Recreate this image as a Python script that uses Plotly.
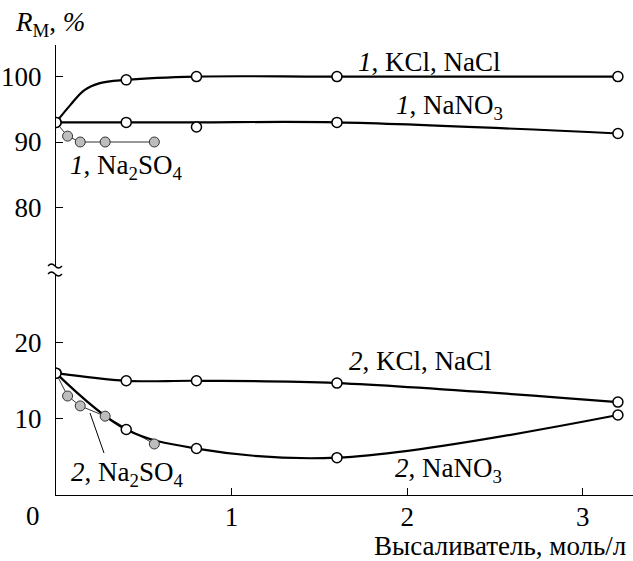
import plotly.graph_objects as go

# ---------------- data ----------------
x_main = [0, 0.4, 0.8, 1.6, 3.2]
x_so4 = [0, 0.066, 0.138, 0.28, 0.56]

r1_kcl = [93, 99.5, 100, 100, 100]
r1_nano3 = [93, 93, 92.3, 93, 91.3]
r1_so4 = [93, 90.9, 90, 90, 90]

r2_kcl = [16, 15, 15, 14.7, 12.2]
r2_nano3 = [16, 8.6, 6.1, 4.9, 10.5]
r2_so4 = [16, 13.0, 11.7, 10.35, 6.7]

# smoothed (fitted) curves as drawn in the figure
c1_kcl_x = [0, 0.08, 0.16, 0.25, 0.4, 0.8, 1.6, 3.2]
c1_kcl_y = [93, 95.6, 97.9, 99.0, 99.5, 100, 100, 100]
c1_nano3_y = [93, 93, 93, 93, 91.3]

x_ticks = [1, 2, 3]
y_low_ticks = [10, 20]
y_up_ticks = [80, 90, 100]

# ---------------- layout geometry ----------------
W, H = 633, 561
L, T, B, R = 56, 45, 66, 0
PW, PH = W - L - R, H - T - B
AX_Y = T + PH  # pixel of x axis line


def px(xp):
    return (xp - L) / PW


def py(yp):
    return (AX_Y - yp) / PH


UP_BOT, LOW_TOP = 266, 274
FONT = "Liberation Serif"
FS = 27

white = dict(size=10, color="white", line=dict(color="black", width=1.5))
gray = dict(size=10, color="#bdbdbd", line=dict(color="#333333", width=1))

fig = go.Figure()

# thin Na2SO4 connecting lines
fig.add_trace(go.Scatter(x=x_so4, y=r1_so4, mode="lines", yaxis="y2",
                         line=dict(color="#333333", width=1)))
fig.add_trace(go.Scatter(x=x_so4, y=r2_so4, mode="lines", yaxis="y",
                         line=dict(color="#333333", width=1)))

# thick smooth curves
thick = dict(color="black", width=2.2, shape="spline", smoothing=1.0)
fig.add_trace(go.Scatter(x=c1_kcl_x, y=c1_kcl_y, mode="lines", yaxis="y2", line=thick))
fig.add_trace(go.Scatter(x=x_main, y=c1_nano3_y, mode="lines", yaxis="y2", line=thick))
fig.add_trace(go.Scatter(x=x_main, y=r2_kcl, mode="lines", yaxis="y", line=thick))
fig.add_trace(go.Scatter(x=x_main, y=r2_nano3, mode="lines", yaxis="y", line=thick))

# gray markers (Na2SO4)
fig.add_trace(go.Scatter(x=x_so4[1:], y=r1_so4[1:], mode="markers", yaxis="y2", marker=gray))
fig.add_trace(go.Scatter(x=x_so4[1:], y=r2_so4[1:], mode="markers", yaxis="y", marker=gray))

# white markers
fig.add_trace(go.Scatter(x=x_main, y=r1_kcl, mode="markers", yaxis="y2", marker=white))
fig.add_trace(go.Scatter(x=x_main, y=r1_nano3, mode="markers", yaxis="y2", marker=white))
fig.add_trace(go.Scatter(x=x_main, y=r2_kcl, mode="markers", yaxis="y", marker=white))
fig.add_trace(go.Scatter(x=x_main, y=r2_nano3, mode="markers", yaxis="y", marker=white))

# scales
x_unit = 175.6
y_low_unit = 7.615
y_up_unit = 6.54
y_up_100 = 76.6

x_range = [0, PW / x_unit]
y_low_range = [0, (AX_Y - LOW_TOP) / y_low_unit]
y_up_range = [100 - (UP_BOT - y_up_100) / y_up_unit, 100 + (y_up_100 - T) / y_up_unit]

axis_common = dict(showgrid=False, zeroline=False, showline=True, linecolor="black",
                   linewidth=1.4, ticks="inside", ticklen=7, tickwidth=1.4,
                   tickcolor="black", tickfont=dict(family=FONT, size=FS, color="black"))

fig.update_layout(
    width=W, height=H,
    margin=dict(l=L, r=R, t=T, b=B, pad=0),
    paper_bgcolor="white", plot_bgcolor="white",
    showlegend=False,
    font=dict(family=FONT, size=FS, color="black"),
    xaxis=dict(range=x_range, tickvals=x_ticks, anchor="y", ticklabelstandoff=-3, **axis_common),
    yaxis=dict(range=y_low_range, tickvals=y_low_ticks, domain=[0, py(LOW_TOP)],
               anchor="x", ticklabelstandoff=8, **axis_common),
    yaxis2=dict(range=y_up_range, tickvals=y_up_ticks, domain=[py(UP_BOT), 1],
                anchor="x", ticklabelstandoff=8, **axis_common),
)


def ann(text, xp, yp, xanchor="center", yanchor="middle"):
    fig.add_annotation(text=text, x=px(xp), y=py(yp), xref="paper", yref="paper",
                       xanchor=xanchor, yanchor=yanchor, showarrow=False, borderpad=0,
                       font=dict(family=FONT, size=FS, color="black"))


ann("<i>1</i>, KCl, NaCl", 429, 62)
ann("<i>1</i>, NaNO<sub>3</sub>", 449, 107)
ann("<i>1</i>, Na<sub>2</sub>SO<sub>4</sub>", 126, 167)
ann("<i>2</i>, KCl, NaCl", 420, 361)
ann("<i>2</i>, NaNO<sub>3</sub>", 448, 470)
ann("<i>2</i>, Na<sub>2</sub>SO<sub>4</sub>", 127, 474)
ann("<i>R</i><sub>М</sub>, <i>%</i>", 14, 24, xanchor="left")
ann("0", 33, 516)
ann("Высаливатель, моль/л", 627, 546, xanchor="right")

# leader line for "2, Na2SO4"
fig.add_shape(type="line", xref="paper", yref="paper",
              x0=px(90), y0=py(413), x1=px(104), y1=py(453),
              line=dict(color="black", width=1))

# axis break marks
for yb in (UP_BOT, LOW_TOP):
    path = "M {:.5f},{:.5f} Q {:.5f},{:.5f} {:.5f},{:.5f} T {:.5f},{:.5f}".format(
        px(48), py(yb), px(51.5), py(yb - 4), px(55), py(yb), px(62), py(yb))
    fig.add_shape(type="path", path=path, xref="paper", yref="paper",
                  line=dict(color="black", width=1.3))

fig.write_html("out.html")
